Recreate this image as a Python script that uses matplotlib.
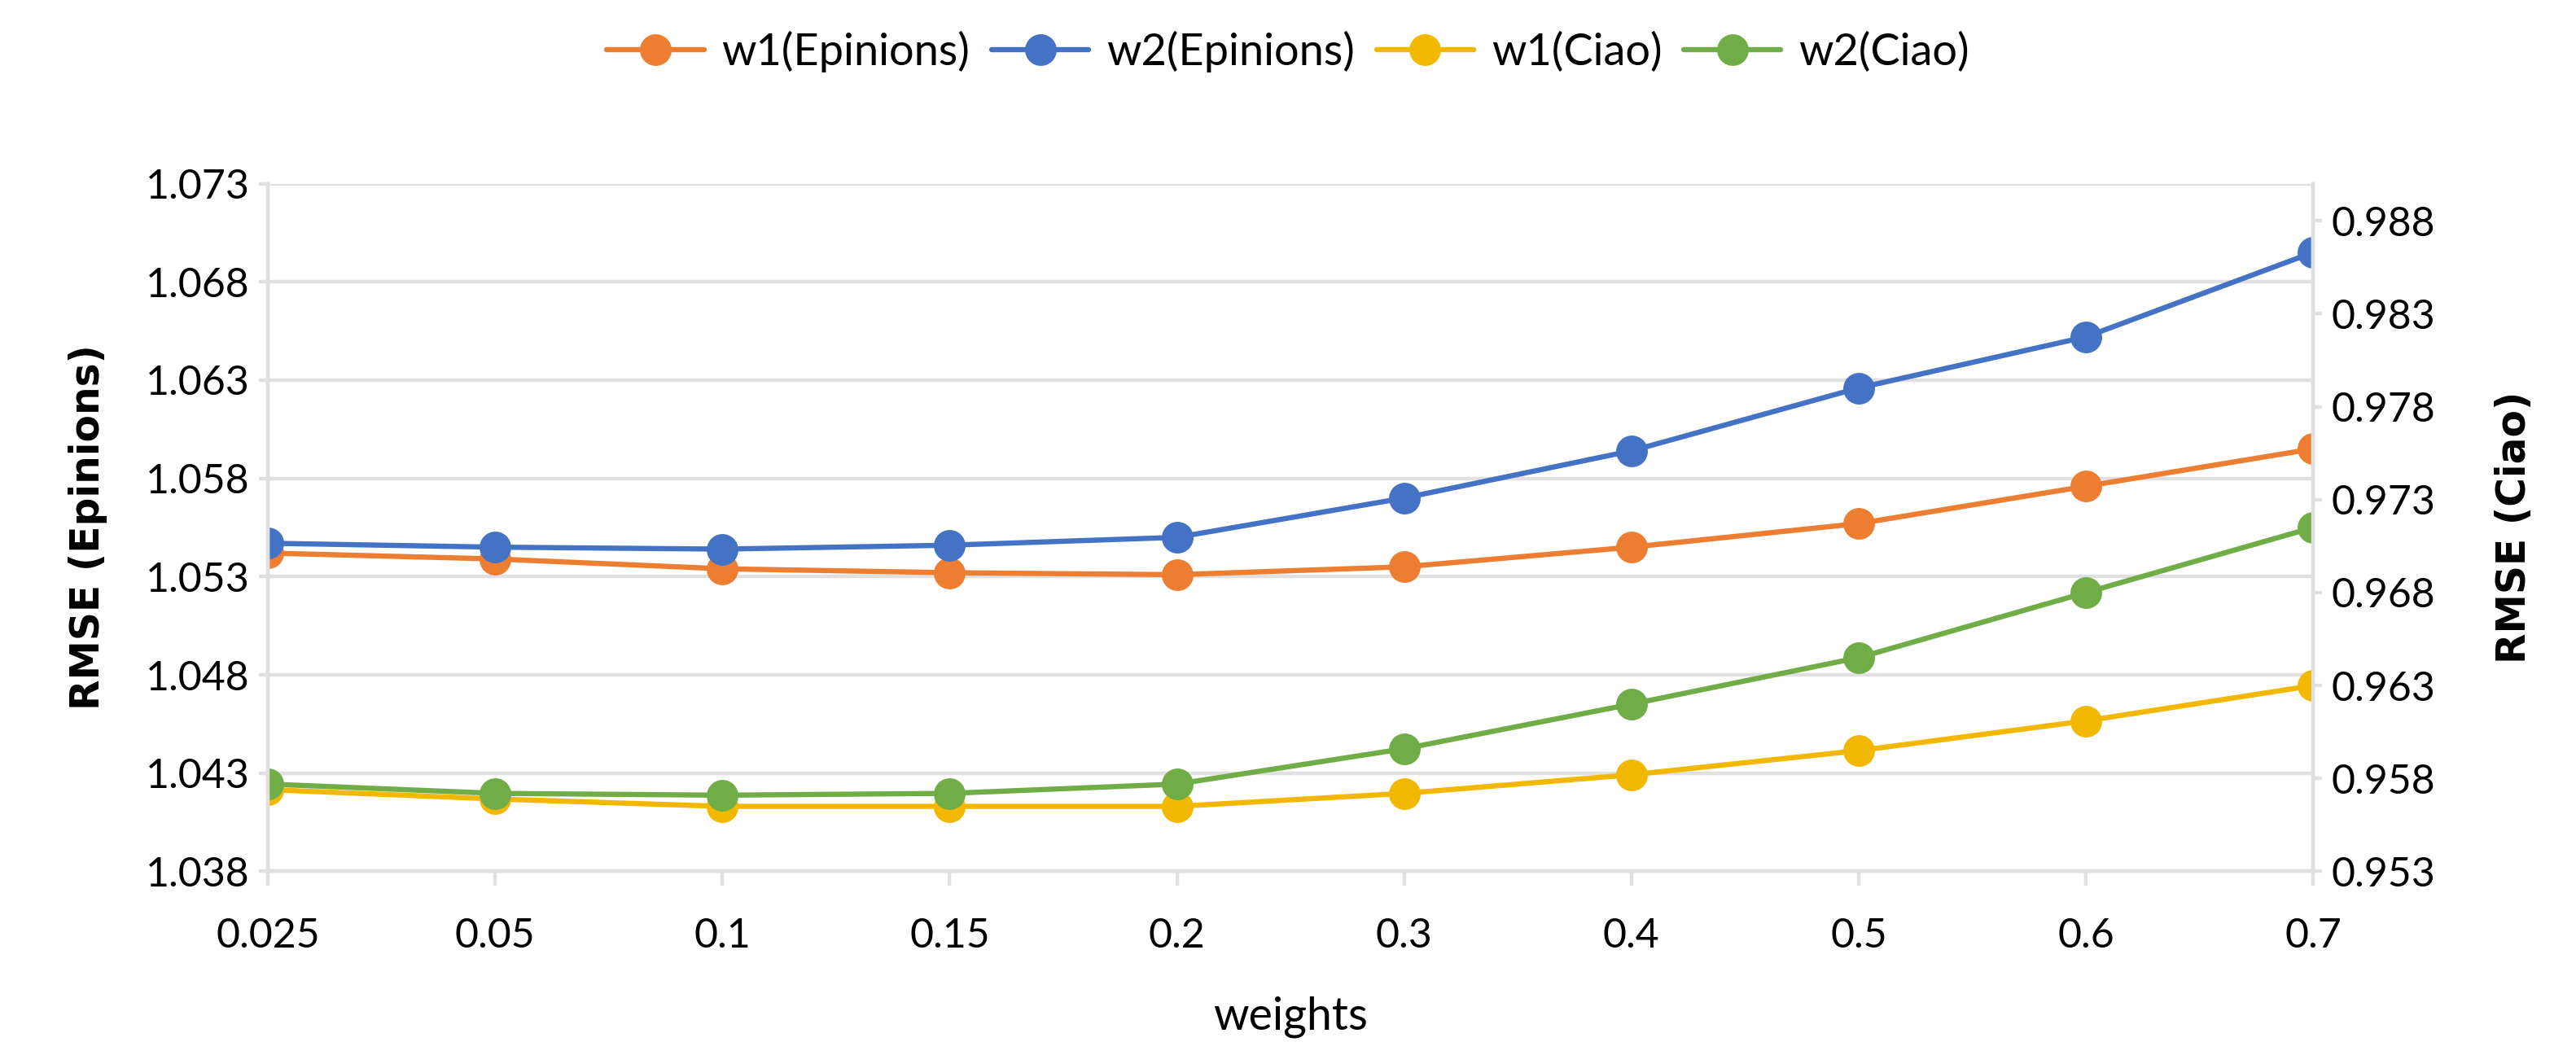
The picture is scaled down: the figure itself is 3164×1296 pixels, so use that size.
import numpy as np
import matplotlib.pyplot as plt

weights = ['0.025', '0.05', '0.1', '0.15', '0.2', '0.3', '0.4', '0.5', '0.6', '0.7']

w1_epinions = [1.0542, 1.0539, 1.0534, 1.0532, 1.0531, 1.0535, 1.0545, 1.0557, 1.0576, 1.0595]
w2_epinions = [1.0547, 1.0545, 1.0544, 1.0546, 1.0550, 1.0570, 1.0594, 1.0626, 1.0652, 1.0695]
w1_ciao = [0.9574, 0.9569, 0.9565, 0.9565, 0.9565, 0.9572, 0.9582, 0.9595, 0.9611, 0.9630]
w2_ciao = [0.9577, 0.9572, 0.9571, 0.9572, 0.9577, 0.9596, 0.9620, 0.9645, 0.9680, 0.9715]

left_ticks = [1.038, 1.043, 1.048, 1.053, 1.058, 1.063, 1.068, 1.073]
right_ticks = [0.953, 0.958, 0.963, 0.968, 0.973, 0.978, 0.983, 0.988]

grid_col = '#E0E0E0'
tick_font = 'Lato'

fig = plt.figure(figsize=(15.82, 6.48), dpi=200)
ax = fig.add_axes([0.104, 0.174, 0.794, 0.652])
ax2 = ax.twinx()

x = np.arange(len(weights))
style = dict(lw=2.3, marker='o', ms=13, solid_capstyle='round')
l1, = ax.plot(x, w1_epinions, color='#ED7D31', label='w1(Epinions)', **style)
l2, = ax.plot(x, w2_epinions, color='#4472C4', label='w2(Epinions)', **style)
l3, = ax2.plot(x, w1_ciao, color='#F2B800', label='w1(Ciao)', **style)
l4, = ax2.plot(x, w2_ciao, color='#70AD47', label='w2(Ciao)', **style)

ax.set_xlim(0, len(weights) - 1)
ax.set_ylim(1.038, 1.073)
ax2.set_ylim(0.953, 0.990)
ax.set_yticks(left_ticks)
ax.set_yticklabels(['%.3f' % v for v in left_ticks], fontfamily=tick_font, fontsize=18)
ax2.set_yticks(right_ticks)
ax2.set_yticklabels(['%.3f' % v for v in right_ticks], fontfamily=tick_font, fontsize=18)
ax.set_xticks(x)
ax.set_xticklabels(weights, fontfamily=tick_font, fontsize=18)

ax.grid(axis='y', color=grid_col, lw=1.6)
ax.set_axisbelow(True)
for a in (ax, ax2):
    for s in a.spines.values():
        s.set_color(grid_col)
        s.set_linewidth(1.6)
    a.spines['top'].set_visible(False)
ax.tick_params(axis='x', length=6.5, width=1.6, color=grid_col, pad=14)
ax.tick_params(axis='y', length=4, width=1.6, color=grid_col, pad=4)
ax2.tick_params(axis='y', length=4, width=1.6, color=grid_col, pad=4)

ax.set_ylabel('RMSE (Epinions)', fontfamily='DejaVu Sans', fontweight='bold', fontsize=17.5, labelpad=17)
ax2.set_ylabel('RMSE (Ciao)', fontfamily='DejaVu Sans', fontweight='bold', fontsize=17.5, labelpad=26)
ax.set_xlabel('weights', fontfamily=tick_font, fontsize=20, labelpad=18)

fig.legend(handles=[l1, l2, l3, l4], loc='center', bbox_to_anchor=(0.5, 0.951), ncol=4,
           frameon=False, prop={'family': tick_font, 'size': 19.5},
           handlelength=2.2, handletextpad=0.4, columnspacing=0.5)

fig.savefig('out.png', dpi=200)
